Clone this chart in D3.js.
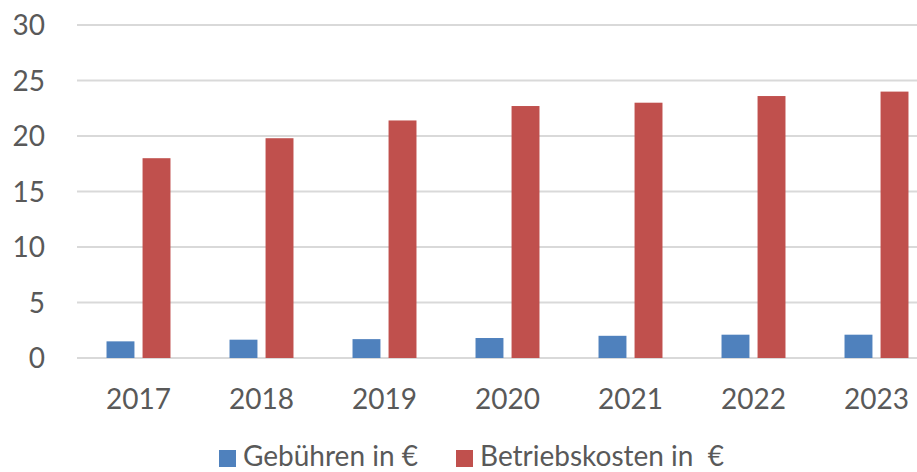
<!DOCTYPE html>
<html>
<head>
<meta charset="utf-8">
<script src="https://cdn.jsdelivr.net/npm/d3@7"></script>
<style>
  body { margin: 0; background: #fff; }
  svg { display: block; }
  text { font-family: Lato, "Open Sans", sans-serif; fill: #595959; }
</style>
</head>
<body>
<svg id="chart" width="917" height="472"></svg>
<script>
var years = ["2017", "2018", "2019", "2020", "2021", "2022", "2023"];
var seriesNames = ["Gebühren in €", "Betriebskosten in  €"];
var gebuehren = [1.5, 1.65, 1.7, 1.8, 2.0, 2.1, 2.1];
var betriebskosten = [18.0, 19.8, 21.4, 22.7, 23.0, 23.6, 24.0];
var yTicks = [0, 5, 10, 15, 20, 25, 30];
var colors = ["#4f81bd", "#c0504d"];

var svg = d3.select("#chart");

var margin = { top: 25, left: 77, bottom: 114 };
var height = +svg.attr("height") - margin.top - margin.bottom;
// the plot runs past the right edge of the picture
var plotRight = 938;

var x0 = d3.scaleBand().domain(years).range([margin.left, plotRight]);
var x1 = d3.scaleBand().domain([0, 1])
    .range([x0.bandwidth() * 0.24, x0.bandwidth() * 0.76])
    .paddingInner(0.225);
var y = d3.scaleLinear().domain([0, 30]).range([margin.top + height, margin.top]);

// gridlines
svg.append("g")
    .selectAll("line")
    .data(yTicks)
    .enter().append("line")
    .attr("x1", margin.left)
    .attr("x2", plotRight)
    .attr("y1", function(d) { return y(d); })
    .attr("y2", function(d) { return y(d); })
    .style("stroke", "#d9d9d9")
    .style("stroke-width", 2);

// y labels
svg.append("g")
    .selectAll("text")
    .data(yTicks)
    .enter().append("text")
    .attr("x", 45)
    .attr("y", function(d) { return y(d); })
    .attr("dy", "0.36em")
    .attr("text-anchor", "end")
    .style("font-size", "28px")
    .text(function(d) { return d; });

// bars
var values = [gebuehren, betriebskosten];
for (var s = 0; s < values.length; s++) {
    let vals = values[s];
    let k = s;
    svg.append("g")
        .selectAll("rect")
        .data(years)
        .enter().append("rect")
        .attr("x", function(d) { return x0(d) + x1(k); })
        .attr("width", x1.bandwidth())
        .attr("y", function(d, i) { return y(vals[i]); })
        .attr("height", function(d, i) { return y(0) - y(vals[i]); })
        .style("fill", colors[k]);
}

// x labels
svg.append("g")
    .selectAll("text")
    .data(years)
    .enter().append("text")
    .attr("x", function(d) { return x0(d) + x0.bandwidth() / 2; })
    .attr("y", 409)
    .attr("text-anchor", "middle")
    .style("font-size", "28px")
    .text(function(d) { return d; });

// legend
var legendX = [219, 456];
var legend = svg.append("g");
seriesNames.forEach(function(name, i) {
    legend.append("rect")
        .attr("x", legendX[i])
        .attr("y", 450)
        .attr("width", 17)
        .attr("height", 17)
        .style("fill", colors[i]);
    legend.append("text")
        .attr("x", legendX[i] + 24)
        .attr("y", 466)
        .style("font-size", "28px")
        .style("white-space", "pre")
        .attr("xml:space", "preserve")
        .text(name);
});
</script>
</body>
</html>
